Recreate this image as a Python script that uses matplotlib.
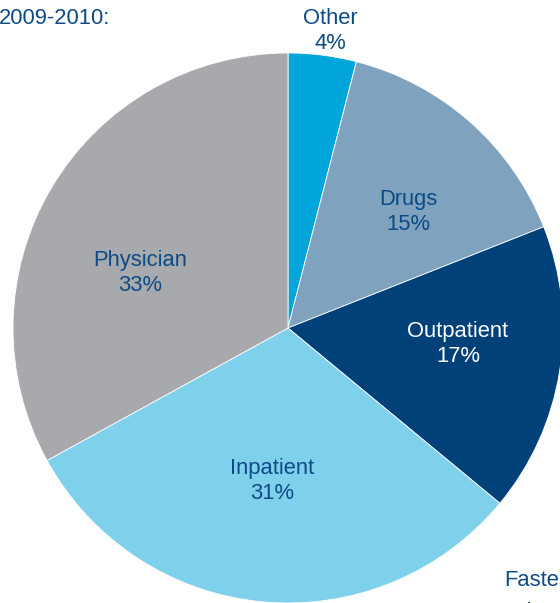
import numpy as np
import matplotlib
matplotlib.use('Agg')
import matplotlib.pyplot as plt

# 数据
categories = ['Other', 'Drugs', 'Outpatient', 'Inpatient', 'Physician']
shares = [4, 15, 17, 31, 33]
colors = ['#00a5d9', '#7fa3bf', '#004179', '#7fd0eb', '#a8a9ad']
txt_colors = ['#0d4a86', '#0d4a86', '#ffffff', '#0d4a86', '#0d4a86']
# 标签位置（像素坐标，y 从顶部算起）
label_pos = [(330, 31), (408, 212), (458, 344), (272, 481), (140, 273)]

plt.rcParams['font.family'] = ['Liberation Sans', 'DejaVu Sans']

W, H = 560, 603
fig = plt.figure(figsize=[W / 100, H / 100], dpi=100)
ax = fig.add_axes([0, 0, 1, 1])

cx, cy, r = 288, 328, 275
ax.pie(shares, colors=colors, startangle=90, counterclock=False,
       center=(cx, H - cy), radius=r,
       wedgeprops=dict(linewidth=0.6, edgecolor='white'))

for name, val, (x, y), c in zip(categories, shares, label_pos, txt_colors):
    ax.text(x, H - y, '%s\n%d%%' % (name, val), ha='center', va='center',
            fontsize=15.8, color=c, linespacing=1.25)

# 边缘被裁掉的文字（参考图中同样被裁切）
ax.text(-1, H - 18, '2009-2010:', ha='left', va='center', fontsize=15.8, color='#0d4a86')
ax.text(504, H - 581, 'Fastest', ha='left', va='center', fontsize=15.8, color='#0d4a86')
ax.text(506, H - 611, '•  Inpatient', ha='left', va='center', fontsize=15.8, color='#0d4a86')

ax.set_xlim(0, W)
ax.set_ylim(0, H)
ax.set_aspect('equal')
ax.axis('off')

fig.savefig('out.png', dpi=100)
plt.close('all')
